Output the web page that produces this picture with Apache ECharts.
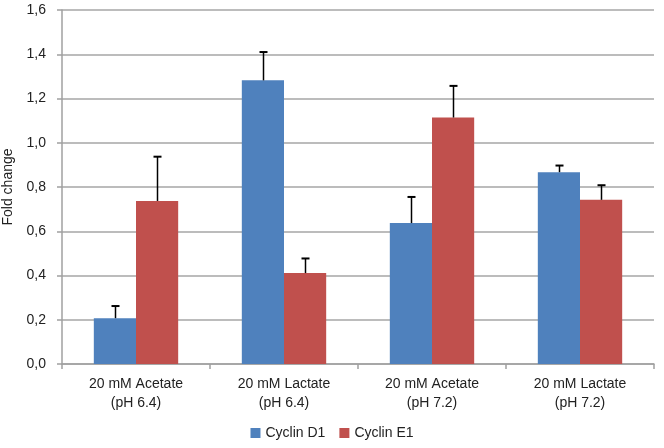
<!DOCTYPE html>
<html><head><meta charset="utf-8">
<script src="https://cdn.jsdelivr.net/npm/echarts@6/dist/echarts.min.js"></script>
<style>html,body{margin:0;padding:0;background:#fff}#c{width:664px;height:448px}</style>
</head><body><div id="c"></div>
<script>
const categories = ['20 mM Acetate\n(pH 6.4)', '20 mM Lactate\n(pH 6.4)', '20 mM Acetate\n(pH 7.2)', '20 mM Lactate\n(pH 7.2)'];
const cyclinD1 = [0.207, 1.282, 0.637, 0.867];
const cyclinD1Err = [0.055, 0.128, 0.118, 0.03];
const cyclinE1 = [0.737, 0.411, 1.114, 0.742];
const cyclinE1Err = [0.2, 0.066, 0.143, 0.066];
const yTicks = ['0,0','0,2','0,4','0,6','0,8','1,0','1,2','1,4','1,6'];

const FONT = 'Liberation Sans, Arial, sans-serif';
const GAP = 0.43;
function errSeries(vals, errs, side) {
  return {
    type: 'custom',
    silent: true,
    z: 5,
    data: vals.map((v, i) => [i, v, v + errs[i]]),
    renderItem: function (params, api) {
      const i = api.value(0);
      const bw = api.size([1, 0])[0];
      const off = side * bw * (1 - GAP) / 4;
      const p0 = api.coord([i, api.value(1)]);
      const p1 = api.coord([i, api.value(2)]);
      const x = Math.round(p0[0] + off) + 0.5;
      const style = { stroke: '#000', lineWidth: 1.5 };
      return {
        type: 'group',
        children: [
          { type: 'line', shape: { x1: x, y1: p0[1], x2: x, y2: p1[1] }, style: style },
          { type: 'line', shape: { x1: x - 4, y1: p1[1], x2: x + 4, y2: p1[1] }, style: { stroke: '#000', lineWidth: 2 } }
        ]
      };
    }
  };
}

const chart = echarts.init(document.getElementById('c'));
chart.setOption({
  animation: false,
  backgroundColor: '#fff',
  textStyle: { fontFamily: FONT },
  grid: { left: 62, right: 10, top: 10, bottom: 84, containLabel: false, outerBoundsMode: 'none' },
  legend: {
    bottom: 3, left: 'center',
    itemWidth: 10, itemHeight: 10, itemGap: 14,
    icon: 'rect',
    textStyle: { fontFamily: FONT, fontSize: 14, color: '#222' },
    data: ['Cyclin D1', 'Cyclin E1']
  },
  xAxis: {
    type: 'category',
    data: categories,
    axisLine: { lineStyle: { color: '#a0a0a0', width: 1.5 } },
    axisTick: { show: true, length: 5, lineStyle: { color: '#a0a0a0', width: 1.5 } },
    axisLabel: { color: '#222', fontFamily: FONT, fontSize: 14, lineHeight: 19, margin: 11 }
  },
  yAxis: {
    type: 'value',
    min: 0, max: 1.6, interval: 0.2,
    name: 'Fold change',
    nameLocation: 'middle',
    nameRotate: 90,
    nameGap: 44,
    nameTextStyle: { color: '#222', fontFamily: FONT, fontSize: 14 },
    axisLine: { show: true, lineStyle: { color: '#a0a0a0', width: 1.5 } },
    axisTick: { show: true, length: 5, lineStyle: { color: '#a0a0a0', width: 1.5 } },
    splitLine: { lineStyle: { color: '#a6a6a6', width: 1.5 } },
    axisLabel: {
      color: '#222', fontFamily: FONT, fontSize: 14, margin: 16,
      formatter: function (v) { return yTicks[Math.round(v / 0.2)]; }
    }
  },
  series: [
    { name: 'Cyclin D1', type: 'bar', data: cyclinD1, barGap: '0%', barCategoryGap: (GAP * 100) + '%', itemStyle: { color: '#4f81bd' } },
    { name: 'Cyclin E1', type: 'bar', data: cyclinE1, barGap: '0%', barCategoryGap: (GAP * 100) + '%', itemStyle: { color: '#c0504d' } },
    errSeries(cyclinD1, cyclinD1Err, -1),
    errSeries(cyclinE1, cyclinE1Err, 1)
  ]
});
</script></body></html>
